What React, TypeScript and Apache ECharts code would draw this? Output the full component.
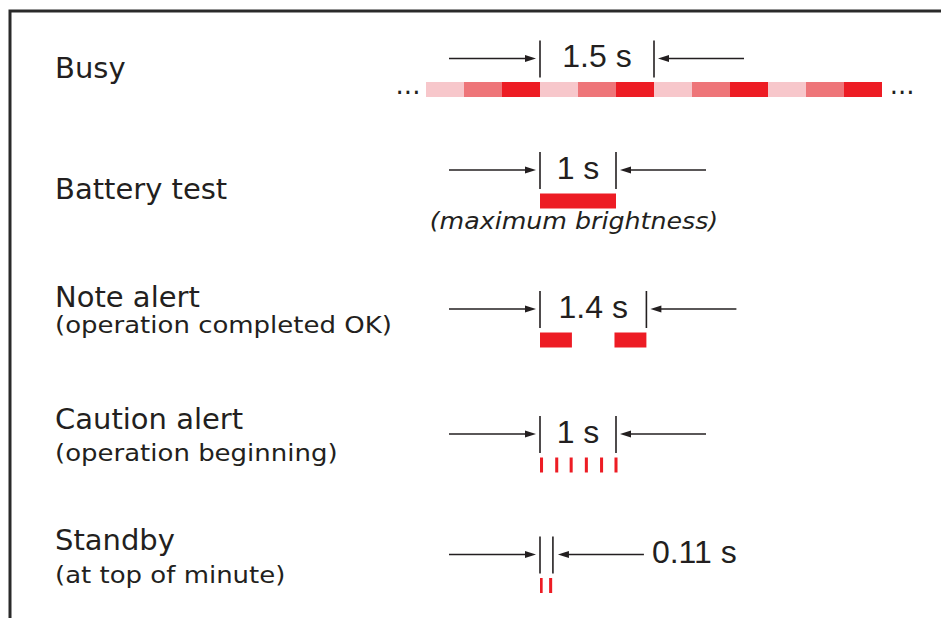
import React, { useEffect, useRef } from "react";
import * as echarts from "echarts";

// ---- data -------------------------------------------------------------
const ROWS = ["Busy", "Battery test", "Note alert", "Caution alert", "Standby"];
const ROW_SUBTITLES = ["", "", "(operation completed OK)", "(operation beginning)", "(at top of minute)"];
const ROW_NOTES = ["", "(maximum brightness)", "", "", ""];

// [start s, end s, brightness level 1..3]
const busyPulses = [
  [-1.5, -1.0, 1], [-1.0, -0.5, 2], [-0.5, 0.0, 3],
  [0.0, 0.5, 1], [0.5, 1.0, 2], [1.0, 1.5, 3],
  [1.5, 2.0, 1], [2.0, 2.5, 2], [2.5, 3.0, 3],
  [3.0, 3.5, 1], [3.5, 4.0, 2], [4.0, 4.5, 3],
];
const batteryPulses = [[0.0, 1.0, 3]];
const notePulses = [[0.0, 0.42, 3], [0.98, 1.4, 3]];
const cautionPulses = [
  [0.0, 0.04, 3], [0.2, 0.24, 3], [0.39, 0.43, 3],
  [0.59, 0.63, 3], [0.79, 0.83, 3], [0.98, 1.02, 3],
];
const standbyPulses = [[0.0, 0.035, 3], [0.12, 0.16, 3]];

// dimension markers per row
const spanStart = [0, 0, 0, 0, 0];
const spanEnd = [1.5, 1.0, 1.4, 1.0, 0.17];
const spanLabels = ["1.5 s", "1 s", "1.4 s", "1 s", "0.11 s"];

const X_MIN = -1.5;
const X_MAX = 4.5;

// ---- style / layout ---------------------------------------------------
const INK = "#231F20";
const LEVEL_COLORS: Record<number, string> = { 1: "#F7C7CB", 2: "#EE7579", 3: "#ED1C24" };
const ROW_SHIFT = [0, -12.5, 2.5, 3.5, 0];
const TITLE_FONT = '29px "DejaVu Sans"';
const SUB_FONT = '23px "DejaVu Sans"';
const DIM_FONT = '32px "Liberation Sans"';

const TITLE_Y = [67.7, 188.8, 297, 419, 539.7];
const SUB_Y = [0, 0, 325, 453.3, 575];

export default function App() {
  const ref = useRef<HTMLDivElement>(null);

  useEffect(() => {
    document.body.style.margin = "0";
    if (!ref.current) return;
    const chart = echarts.init(ref.current, undefined, { renderer: "svg" });

    const pulseData: number[][] = [];
    const groups = [busyPulses, batteryPulses, notePulses, cautionPulses, standbyPulses];
    groups.forEach((g, row) => g.forEach((p) => pulseData.push([p[0], p[1], row, p[2]])));

    const dimData = ROWS.map((_, row) => [spanStart[row], spanEnd[row], row]);

    const graphics: any[] = [
      {
        type: "rect",
        shape: { x: 10, y: 11, width: 1200, height: 1200 },
        style: { fill: "none", stroke: "#2a2a2a", lineWidth: 3 },
        silent: true,
      },
    ];
    ROWS.forEach((t, i) => {
      graphics.push({
        type: "text",
        x: 55,
        y: TITLE_Y[i],
        style: { text: t, font: TITLE_FONT, fill: INK, verticalAlign: "middle", textVerticalAlign: "middle" },
      });
      if (ROW_SUBTITLES[i]) {
        graphics.push({
          type: "text",
          x: 55,
          y: SUB_Y[i],
          scaleX: 1.13,
          style: { text: ROW_SUBTITLES[i], font: SUB_FONT, fill: INK, verticalAlign: "middle", textVerticalAlign: "middle" },
        });
      }
    });

    const option: any = {
      animation: false,
      grid: { left: 426, right: 59, top: 89.5, bottom: 32.5 },
      xAxis: { type: "value", min: X_MIN, max: X_MAX, show: false },
      yAxis: { type: "category", data: ROWS, inverse: true, boundaryGap: false, show: false },
      graphic: graphics,
      series: [
        {
          type: "custom",
          name: "pulses",
          data: pulseData,
          encode: { x: [0, 1], y: 2 },
          renderItem: (params: any, api: any) => {
            const row = api.value(2);
            const s = api.coord([api.value(0), row]);
            const e = api.coord([api.value(1), row]);
            const cy = s[1] + ROW_SHIFT[row];
            return {
              type: "rect",
              shape: { x: s[0], y: cy - 7.5, width: e[0] - s[0], height: 15 },
              style: { fill: LEVEL_COLORS[api.value(3)] },
            };
          },
        },
        {
          type: "custom",
          name: "dimensions",
          data: dimData,
          encode: { x: [0, 1], y: 2 },
          renderItem: (params: any, api: any) => {
            const row = api.value(2);
            const s = api.coord([api.value(0), row]);
            const e = api.coord([api.value(1), row]);
            const sx = s[0];
            const ex = e[0];
            const cy = s[1] + ROW_SHIFT[row];
            const tTop = cy - 49;
            const tBot = cy - 12;
            const ay = cy - 31;
            const lw = 1.3;
            const children: any[] = [
              { type: "line", shape: { x1: sx, y1: tTop, x2: sx, y2: tBot }, style: { stroke: INK, lineWidth: 1.6 } },
              { type: "line", shape: { x1: ex, y1: tTop, x2: ex, y2: tBot }, style: { stroke: INK, lineWidth: 1.6 } },
              // left arrow
              { type: "line", shape: { x1: sx - 91, y1: ay, x2: sx - 12, y2: ay }, style: { stroke: INK, lineWidth: lw } },
              { type: "polygon", shape: { points: [[sx - 4, ay], [sx - 15, ay - 3.6], [sx - 15, ay + 3.6]] }, style: { fill: INK } },
            ];
            const outside = row === 4;
            const tip = ex + (outside ? 5 : 4);
            const tail = ex + (outside ? 91 : 90);
            children.push(
              { type: "line", shape: { x1: tip + 8, y1: ay, x2: tail, y2: ay }, style: { stroke: INK, lineWidth: lw } },
              { type: "polygon", shape: { points: [[tip, ay], [tip + 11, ay - 3.6], [tip + 11, ay + 3.6]] }, style: { fill: INK } }
            );
            children.push({
              type: "text",
              x: outside ? tail + 8 : (sx + ex) / 2,
              y: cy - 33.5,
              style: {
                text: spanLabels[row],
                font: DIM_FONT,
                fill: INK,
                align: outside ? "left" : "center",
                textAlign: outside ? "left" : "center",
                verticalAlign: "middle",
                textVerticalAlign: "middle",
              },
            });
            if (ROW_NOTES[row]) {
              children.push({
                type: "text",
                x: (sx + ex) / 2 - 4,
                y: cy + 20.5,
                scaleX: 1.1,
                style: {
                  text: ROW_NOTES[row],
                  font: 'italic 23px "DejaVu Sans"',
                  fill: INK,
                  align: "center",
                  textAlign: "center",
                  verticalAlign: "middle",
                  textVerticalAlign: "middle",
                },
              });
            }
            if (row === 0) {
              const l = api.coord([X_MIN, row]);
              const r = api.coord([X_MAX, row]);
              children.push(
                {
                  type: "text",
                  x: l[0] - 5.6,
                  y: cy - 5,
                  style: { text: "...", font: '26px "DejaVu Sans"', fill: INK, align: "right", textAlign: "right", verticalAlign: "middle", textVerticalAlign: "middle" },
                },
                {
                  type: "text",
                  x: r[0] + 7.7,
                  y: cy - 5,
                  style: { text: "...", font: '26px "DejaVu Sans"', fill: INK, align: "left", textAlign: "left", verticalAlign: "middle", textVerticalAlign: "middle" },
                }
              );
            }
            return { type: "group", children };
          },
        },
      ],
    };

    chart.setOption(option);
    return () => chart.dispose();
  }, []);

  return <div ref={ref} style={{ width: 941, height: 618 }} />;
}
